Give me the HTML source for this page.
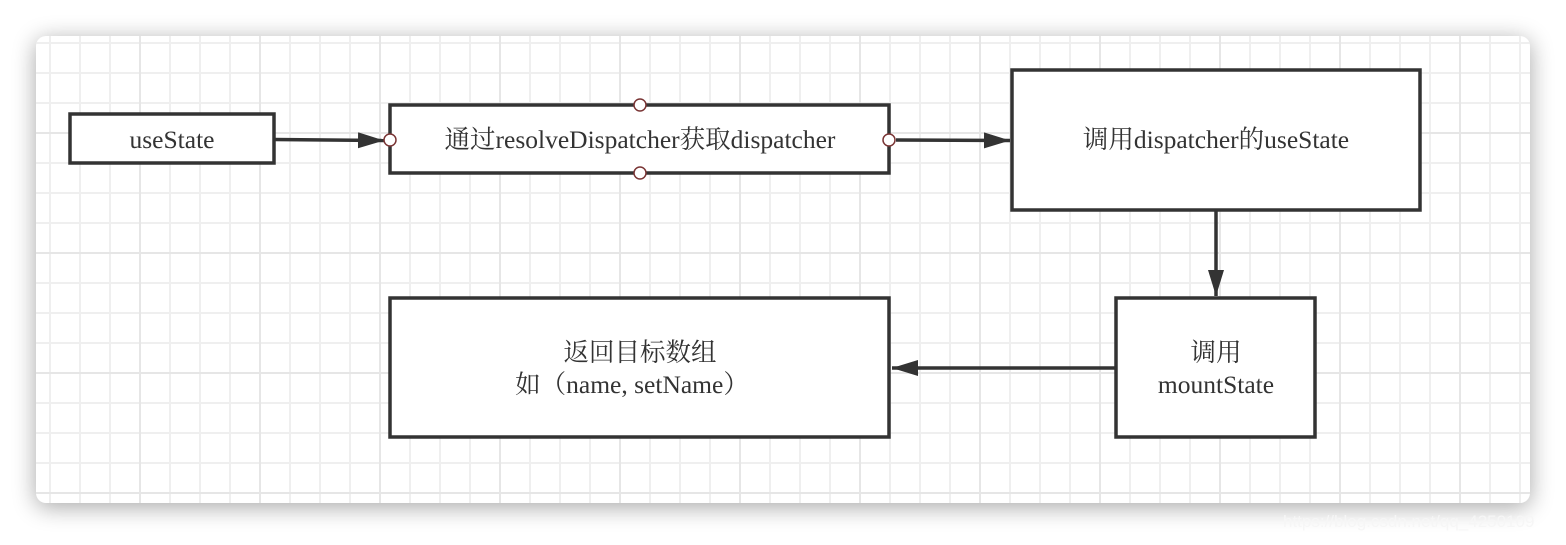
<!DOCTYPE html>
<html><head><meta charset="utf-8"><style>
html,body{margin:0;padding:0;background:#fff;}
body{width:1566px;height:540px;overflow:hidden;}
</style></head><body>
<svg width="1566" height="540" xmlns="http://www.w3.org/2000/svg" font-family="'Liberation Serif','Noto Serif CJK SC',serif">
<defs>
<filter id="sh" x="-5%" y="-15%" width="110%" height="130%"><feGaussianBlur stdDeviation="12"/></filter>
<pattern id="g" x="19" y="12" width="30" height="30" patternUnits="userSpaceOnUse">
<path d="M1 0V30M0 1H30" stroke="#efefef" stroke-width="2" fill="none"/></pattern>
<pattern id="G" x="19" y="12" width="120" height="120" patternUnits="userSpaceOnUse">
<path d="M1 0V120M0 1H120" stroke="#e6e6e6" stroke-width="2" fill="none"/></pattern>
<marker id="b" viewBox="0 0 26 16" markerWidth="26" markerHeight="16" refX="26" refY="8" orient="auto" markerUnits="userSpaceOnUse">
<path d="M0 0L26 8L0 16Z" fill="#333"/></marker>
</defs>
<rect x="36" y="40" width="1494" height="467" rx="10" fill="#000" opacity="0.35" filter="url(#sh)"/>
<rect x="36" y="36" width="1494" height="467" rx="10" fill="#fff"/>
<rect x="36" y="36" width="1494" height="467" rx="10" fill="url(#g)"/>
<rect x="36" y="36" width="1494" height="467" rx="10" fill="url(#G)"/>
<g stroke="#333" stroke-width="3.5" fill="#fff">
<rect x="70" y="114" width="204" height="49"/>
<rect x="390" y="105" width="499" height="68"/>
<rect x="1012" y="70" width="408" height="140"/>
<rect x="1116" y="298" width="199" height="139"/>
<rect x="390" y="298" width="499" height="139"/>
</g>
<g stroke="#333" stroke-width="3.5" fill="none">
<path d="M274 139.5L384 140.5" marker-end="url(#b)"/>
<path d="M896 140L1010 140.5" marker-end="url(#b)"/>
<path d="M1216 210V296" marker-end="url(#b)"/>
<path d="M1116 368H892" marker-end="url(#b)"/>
</g>
<g fill="#fff" stroke="#7a3535" stroke-width="1.5">
<circle cx="390" cy="140" r="6"/><circle cx="889" cy="140" r="6"/>
<circle cx="640" cy="105" r="6"/><circle cx="640" cy="173" r="6"/>
</g>
<g fill="#333" font-size="25.5" text-anchor="middle">
<text x="172" y="148">useState</text>
<text x="640" y="148">通过resolveDispatcher获取dispatcher</text>
<text x="1216" y="148">调用dispatcher的useState</text>
<text x="1216" y="361">调用</text>
<text x="1216" y="393">mountState</text>
<text x="640" y="361">返回目标数组</text>
<text x="632" y="393">如（name, setName）</text>
</g>
<text x="1283" y="527" fill="#f6f6f6" font-size="17" font-family="'Liberation Sans',sans-serif">https://blog.csdn.net/qq_4250109</text>
</svg>
</body></html>
